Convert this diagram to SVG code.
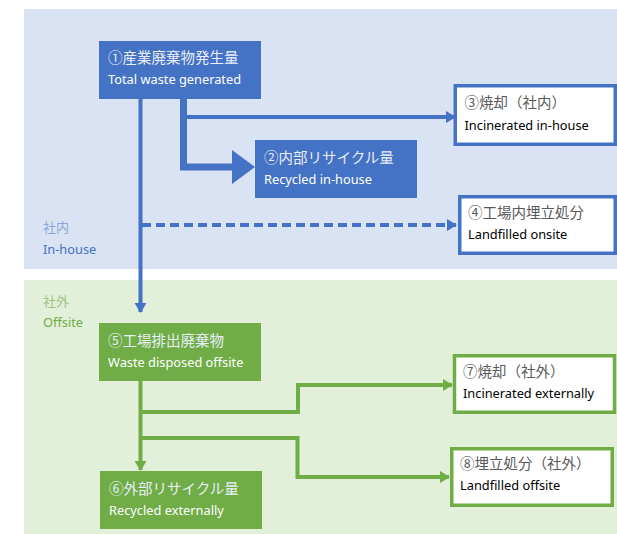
<svg xmlns="http://www.w3.org/2000/svg" width="617" height="534" viewBox="0 0 617 534">
<style>
.jp{font-family:"Noto Sans CJK JP","Noto Sans",sans-serif;font-size:14.5px}
.en{font-family:"Noto Sans","Open Sans",sans-serif;font-size:12.8px}
.wj{fill:#e9eef8}
.we{fill:#ffffff}
.gj{fill:#595959}
.ge{fill:#000000}
.bfill{fill:#4472C4}
.gfill{fill:#70AD47}
.bout{fill:#ffffff;stroke:#4472C4;stroke-width:3.5}
.gout{fill:#ffffff;stroke:#70AD47;stroke-width:3.5}
.bl{fill:none;stroke:#4472C4;stroke-width:4}
.gl{fill:none;stroke:#70AD47;stroke-width:4}
</style>
<defs>
<marker id="ab" markerUnits="userSpaceOnUse" markerWidth="10" markerHeight="12" refX="9" refY="6" orient="auto"><path d="M0,0 L10,6 L0,12 Z" fill="#4472C4"/></marker>
<marker id="ag" markerUnits="userSpaceOnUse" markerWidth="10" markerHeight="12" refX="9" refY="6" orient="auto"><path d="M0,0 L10,6 L0,12 Z" fill="#70AD47"/></marker>
</defs>
<g id="panel-inhouse">
<rect x="24" y="9" width="593" height="260" fill="#DAE3F3"/>
<text x="43" y="232" class="jp" style="fill:#8BA5DA;font-size:13px">社内</text>
<text x="43" y="254" class="en" style="fill:#4472C4">In-house</text>
</g>
<g id="panel-offsite">
<rect x="24" y="280" width="593" height="254" fill="#E2F0D9"/>
<text x="43" y="306" class="jp" style="fill:#9DC686;font-size:13px">社外</text>
<text x="43" y="327" class="en" style="fill:#70AD47">Offsite</text>
</g>
<g id="connectors">
<path class="bl" d="M140.5,99 V312" marker-end="url(#ab)"/>
<path class="bl" d="M183.5,117 H455" marker-end="url(#ab)"/>
<path fill="none" stroke="#4472C4" stroke-width="7" d="M183.5,99 V167 H233"/>
<path d="M232,150 L255,167 L232,184 Z" fill="#4472C4"/>
<path class="bl" d="M142,225 H456" stroke-dasharray="9,5" marker-end="url(#ab)"/>
<path class="gl" d="M140.5,381 V470" marker-end="url(#ag)"/>
<path class="gl" d="M140.5,412 H298 V385 H452" marker-end="url(#ag)"/>
<path class="gl" d="M140.5,438 H297.5 V477 H449" marker-end="url(#ag)"/>
</g>
<g id="n1">
<rect class="bfill" x="99" y="41" width="162" height="58"/>
<text x="108" y="63" class="jp wj">①産業廃棄物発生量</text>
<text x="108" y="84" class="en we">Total waste generated</text>
</g>
<g id="n2">
<rect class="bfill" x="255" y="140" width="162" height="58"/>
<text x="264" y="163" class="jp wj">②内部リサイクル量</text>
<text x="264" y="184" class="en we">Recycled in-house</text>
</g>
<g id="n3">
<rect class="bout" x="455.25" y="85.75" width="160" height="58.5"/>
<text x="464.5" y="108" class="jp gj">③焼却（社内）</text>
<text x="464.5" y="130" class="en ge">Incinerated in-house</text>
</g>
<g id="n4">
<rect class="bout" x="459.75" y="196.75" width="155.5" height="56.5"/>
<text x="468" y="218" class="jp gj">④工場内埋立処分</text>
<text x="468" y="239" class="en ge">Landfilled onsite</text>
</g>
<g id="n5">
<rect class="gfill" x="99" y="323" width="162" height="58"/>
<text x="108" y="346" class="jp wj">⑤工場排出廃棄物</text>
<text x="108" y="367" class="en we">Waste disposed offsite</text>
</g>
<g id="n6">
<rect class="gfill" x="100" y="471" width="162" height="58"/>
<text x="109" y="494" class="jp wj">⑥外部リサイクル量</text>
<text x="109" y="515" class="en we">Recycled externally</text>
</g>
<g id="n7">
<rect class="gout" x="454.5" y="355.75" width="160" height="56.5"/>
<text x="463" y="377" class="jp gj">⑦焼却（社外）</text>
<text x="463" y="398" class="en ge">Incinerated externally</text>
</g>
<g id="n8">
<rect class="gout" x="451.75" y="448.75" width="160.5" height="56.5"/>
<text x="460" y="469" class="jp gj">⑧埋立処分（社外）</text>
<text x="460" y="490" class="en ge">Landfilled offsite</text>
</g>
</svg>
